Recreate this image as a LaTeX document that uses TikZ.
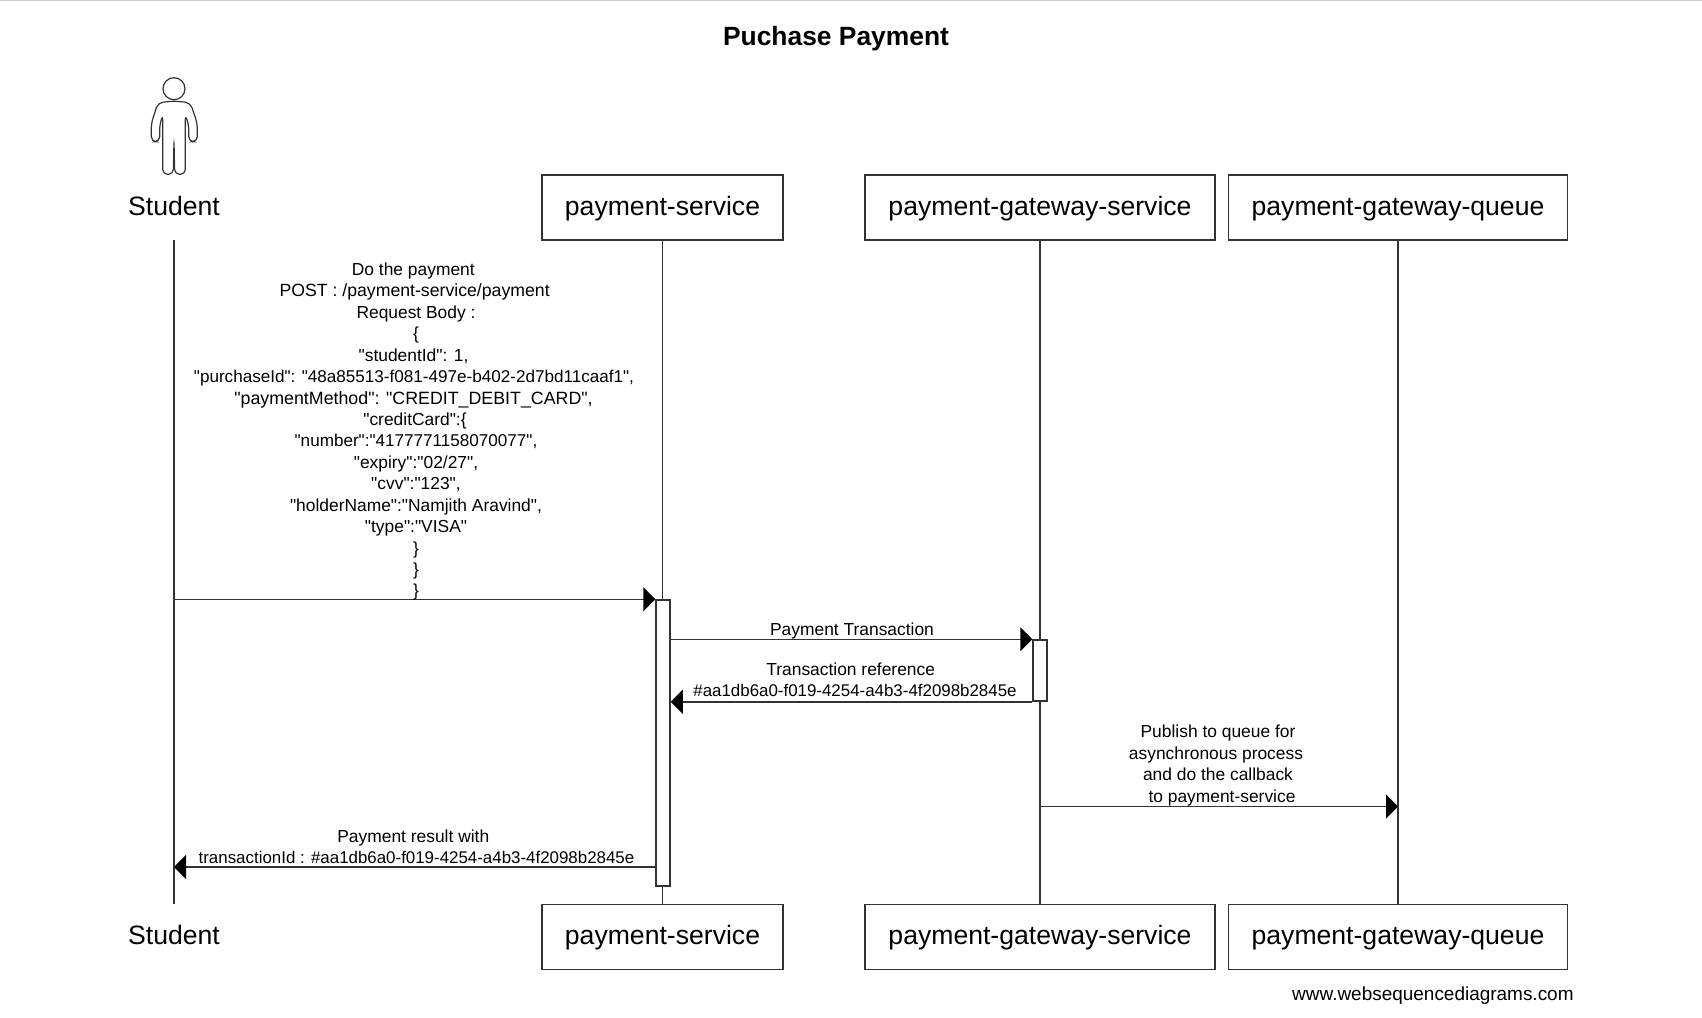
\documentclass[tikz,border=0pt]{standalone}
\usepackage{fontspec}
\setmainfont{Liberation Sans}
\newfontfamily\msgfont{Liberation Sans}
\usetikzlibrary{arrows.meta}
\definecolor{linegray}{rgb}{0.2,0.2,0.2}
\newcommand{\nudge}[1]{\kern#1\mbox{}}
\newcommand{\linesize}[1]{\fontsize{#1}{10.72}\selectfont}
\tikzset{
  actorbox/.style={draw=linegray,line width=0.75pt,minimum height=32.5pt,inner sep=0pt,text height=9.6pt,text depth=2pt,font=\fontsize{13.3}{16}\selectfont},
  actorname/.style={minimum height=32.5pt,inner sep=0pt,text height=9.6pt,text depth=2pt,font=\fontsize{13.3}{16}\selectfont},
  lifeline/.style={draw=linegray,line width=0.75pt},
  activation/.style={draw=linegray,line width=0.75pt,fill=white,minimum width=7pt,inner sep=0pt},
  msg/.style={draw=linegray,line width=0.75pt,-{Triangle[length=6pt,width=12pt,color=black]}},
  msglabel/.style={align=center,inner sep=0pt,font=\msgfont\fontsize{8.7}{10.72}\selectfont}
}
\begin{document}
\begin{tikzpicture}[x=0.5pt,y=-0.5pt]
\useasboundingbox (0,0) rectangle (1702,1017);
\draw[color=gray!40,line width=0.8pt] (0,0.5)--(1702,0.5);

\node[font=\bfseries\fontsize{13.2}{16}\selectfont] (title) at (836,39) {Puchase Payment};

% stick figure above the first lifeline
\draw[linegray,line width=0.6pt] (174,88.7) circle (11);
\draw[linegray,line width=0.6pt,rounded corners=2.5pt,shift={(174,88.7)}] (0,12.3)--(-16,14)--(-22.7,34.7)--(-22.7,53)--(-14.3,53)--(-14.3,36)--(-11.3,26.3)--(-11.3,85.7)--(-0.7,85.7)--(0,52)--(0.7,85.7)--(11.3,85.7)--(11.3,26.3)--(14.7,36)--(14.7,53)--(23.3,53)--(23.3,34.7)--(16.3,14)--cycle;

\node[actorname] (studenttop) at (174,207.5) {Student};
\node[actorbox,minimum width=120.5pt] (paytop) at (662.5,207.5) {payment-service};
\node[actorbox,minimum width=175pt] (gatewaytop) at (1040,207.5) {payment-gateway-service};
\node[actorbox,minimum width=169.5pt] (queuetop) at (1398,207.5) {payment-gateway-queue};

\node[actorname] (studentbot) at (174,937) {Student};
\node[actorbox,minimum width=120.5pt] (paybot) at (662.5,937) {payment-service};
\node[actorbox,minimum width=175pt] (gatewaybot) at (1040,937) {payment-gateway-service};
\node[actorbox,minimum width=169.5pt] (queuebot) at (1398,937) {payment-gateway-queue};

\draw[lifeline] (studenttop)--(studentbot);
\draw[lifeline] (paytop)--(paybot);
\draw[lifeline] (gatewaytop)--(gatewaybot);
\draw[lifeline] (queuetop)--(queuebot);

\node[activation,minimum height=143pt] (payact) at (663,743) {};
\node[activation,minimum height=30.5pt] (gatewayact) at (1040,670.5) {};

\coordinate (paystart) at (studenttop |- payact.north);
\coordinate (paystop) at (studenttop |- 0,867);
\coordinate (pubstart) at (gatewaytop |- 0,806.5);

\draw[msg] (paystart)--(payact.north west);
\draw[msg] (payact.east |- gatewayact.north)--(gatewayact.north west);
\draw[msg] (gatewayact.south west)--(payact.east |- gatewayact.south);
\draw[msg] (pubstart)--(queuetop |- pubstart);
\draw[msg] (payact.west |- paystop)--(paystop);

\node[msglabel,anchor=south] (dopay) at (416,601) {Do the payment\nudge{2.7pt}\\\linesize{8.84}POST : /payment-service/payment\nudge{1.4pt}\\\linesize{8.7}Request Body :\\\{\\"studentId": 1,\nudge{2.5pt}\\\linesize{8.55}"purchaseId": "48a85513-f081-497e-b402-2d7bd11caaf1",\nudge{2pt}\\\linesize{8.9}"paymentMethod": "CREDIT\_DEBIT\_CARD",\nudge{2.5pt}\\\linesize{8.7}"creditCard":\{\nudge{1pt}\\\linesize{8.55}"number":"4177771158070077",\\\linesize{8.7}"expiry":"02/27",\\"cvv":"123",\\"holderName":"Namjith Aravind",\\"type":"VISA"\\\}\\\}\\\}};
\node[msglabel,anchor=south] (txlabel) at (852,640) {Payment Transaction};
\node[msglabel,anchor=south] (reflabel) at (855,697) {Transaction reference\nudge{4.3pt}\\\linesize{8.45}\#aa1db6a0-f019-4254-a4b3-4f2098b2845e};
\node[msglabel,anchor=south] (publabel) at (1218,806) {Publish to queue for\\asynchronous process\nudge{2pt}\\and do the callback\\\hspace*{4pt}to payment-service};
\node[msglabel,anchor=south] (resultlabel) at (416.5,864) {Payment result with\nudge{3.2pt}\\\linesize{8.45}transactionId : \#aa1db6a0-f019-4254-a4b3-4f2098b2845e};

\node[anchor=east,inner sep=0pt,font=\fontsize{9.48}{11}\selectfont] (credit) at (1574,996) {www.websequencediagrams.com};
\end{tikzpicture}
\end{document}
